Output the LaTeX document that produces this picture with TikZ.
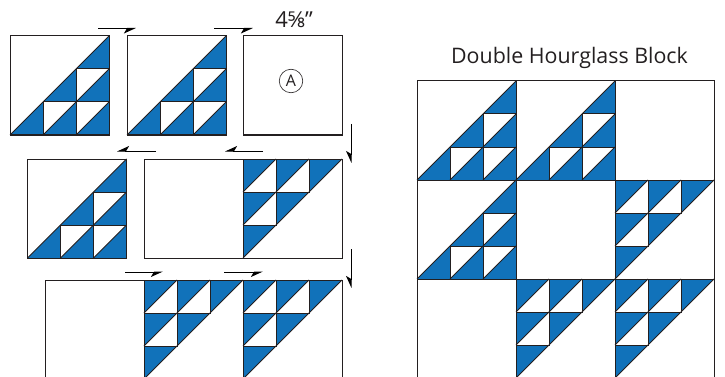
\documentclass[tikz,border=0pt]{standalone}
\usepackage{fontspec}
\setmainfont{Open Sans}
\usetikzlibrary{arrows.meta}
\definecolor{quiltblue}{HTML}{1172BA}
\definecolor{quiltink}{HTML}{231F20}
\tikzset{
  x=1pt,y=-1pt,
  seam/.style={draw=quiltink,line width=1pt,line join=miter},
  plainblock/.style={seam,fill=white},
  pressright/.style={draw=black,line width=1pt,-{Stealth[harpoon,swap,length=11pt,width=10pt,inset=3pt]}},
  hgblock/.pic={
    \begin{scope}[x=33pt,y=-33pt,shift={(-1.5,-1.5)}]
      \path[plainblock] (0,0) rectangle (3,3);
      \foreach \cx/\cy in {0/0,1/0,2/0,0/1,1/1,0/2}{
        \path[fill=quiltblue] (\cx,\cy) -- (\cx+1,\cy) -- (\cx,\cy+1) -- cycle;
      }
      \foreach \cx/\cy in {0/0,1/0,0/1}{
        \draw[seam] (\cx,\cy) rectangle (\cx+1,\cy+1);
        \draw[seam] (\cx+1,\cy) -- (\cx,\cy+1);
      }
      \draw[seam] (3,0) -- (0,3);
      \draw[seam] (0,0) rectangle (3,3);
    \end{scope}
  }
}
\begin{document}
\begin{tikzpicture}
\useasboundingbox (0,0) rectangle (725,377);
\clip (0,0) rectangle (725,377);
% step 1
\pic[rotate=180] at (59.5,85.5) {hgblock};
\pic[rotate=180] at (176.5,85.5) {hgblock};
\node[plainblock,minimum size=99pt,inner sep=0pt,anchor=center] (blockA) at (293,85.5) {};
\node[draw=quiltink,line width=0.6pt,circle,minimum size=23.5pt,inner sep=0pt,text=quiltink,font=\fontsize{16}{16}\selectfont] (labelA) at (291,81) {A};
\node[font=\fontsize{22}{22}\selectfont,text=quiltink,inner sep=0pt] (size) at (294,20) {4⅝"};
% step 2
\pic[rotate=180] at (77,208.5) {hgblock};
\node[plainblock,minimum size=99pt,inner sep=0pt] (blank2) at (193.5,208.5) {};
\pic at (292.5,208.5) {hgblock};
% step 3
\node[plainblock,minimum size=99pt,inner sep=0pt] (blank3) at (94.5,329.5) {};
\pic at (193.5,329.5) {hgblock};
\pic at (292.5,329.5) {hgblock};
% press arrows
\draw[pressright] (98,28.5) -- (136,28.5);
\draw[pressright] (214,28.5) -- (253,28.5);
\draw[pressright] (351,124) -- (351,163);
\draw[pressright] (263,151) -- (225,151);
\draw[pressright] (156,151) -- (117,151);
\draw[pressright] (351,249) -- (351,288);
\draw[pressright] (125,272) -- (163,272);
\draw[pressright] (224,272) -- (263,272);
% finished block
\node[font=\fontsize{21.4}{21.4}\selectfont,text=quiltink,inner sep=0pt] (title) at (569.5,58) {Double Hourglass Block};
\pic[rotate=180] at (466.5,130.5) {hgblock};
\pic[rotate=180] at (565.5,130.5) {hgblock};
\node[plainblock,minimum size=99pt,inner sep=0pt] (r1c3) at (664.5,130.5) {};
\pic[rotate=180] at (466.5,229.5) {hgblock};
\node[plainblock,minimum size=99pt,inner sep=0pt] (r2c2) at (565.5,229.5) {};
\pic at (664.5,229.5) {hgblock};
\node[plainblock,minimum size=99pt,inner sep=0pt] (r3c1) at (466.5,328.5) {};
\pic at (565.5,328.5) {hgblock};
\pic at (664.5,328.5) {hgblock};
\end{tikzpicture}
\end{document}
